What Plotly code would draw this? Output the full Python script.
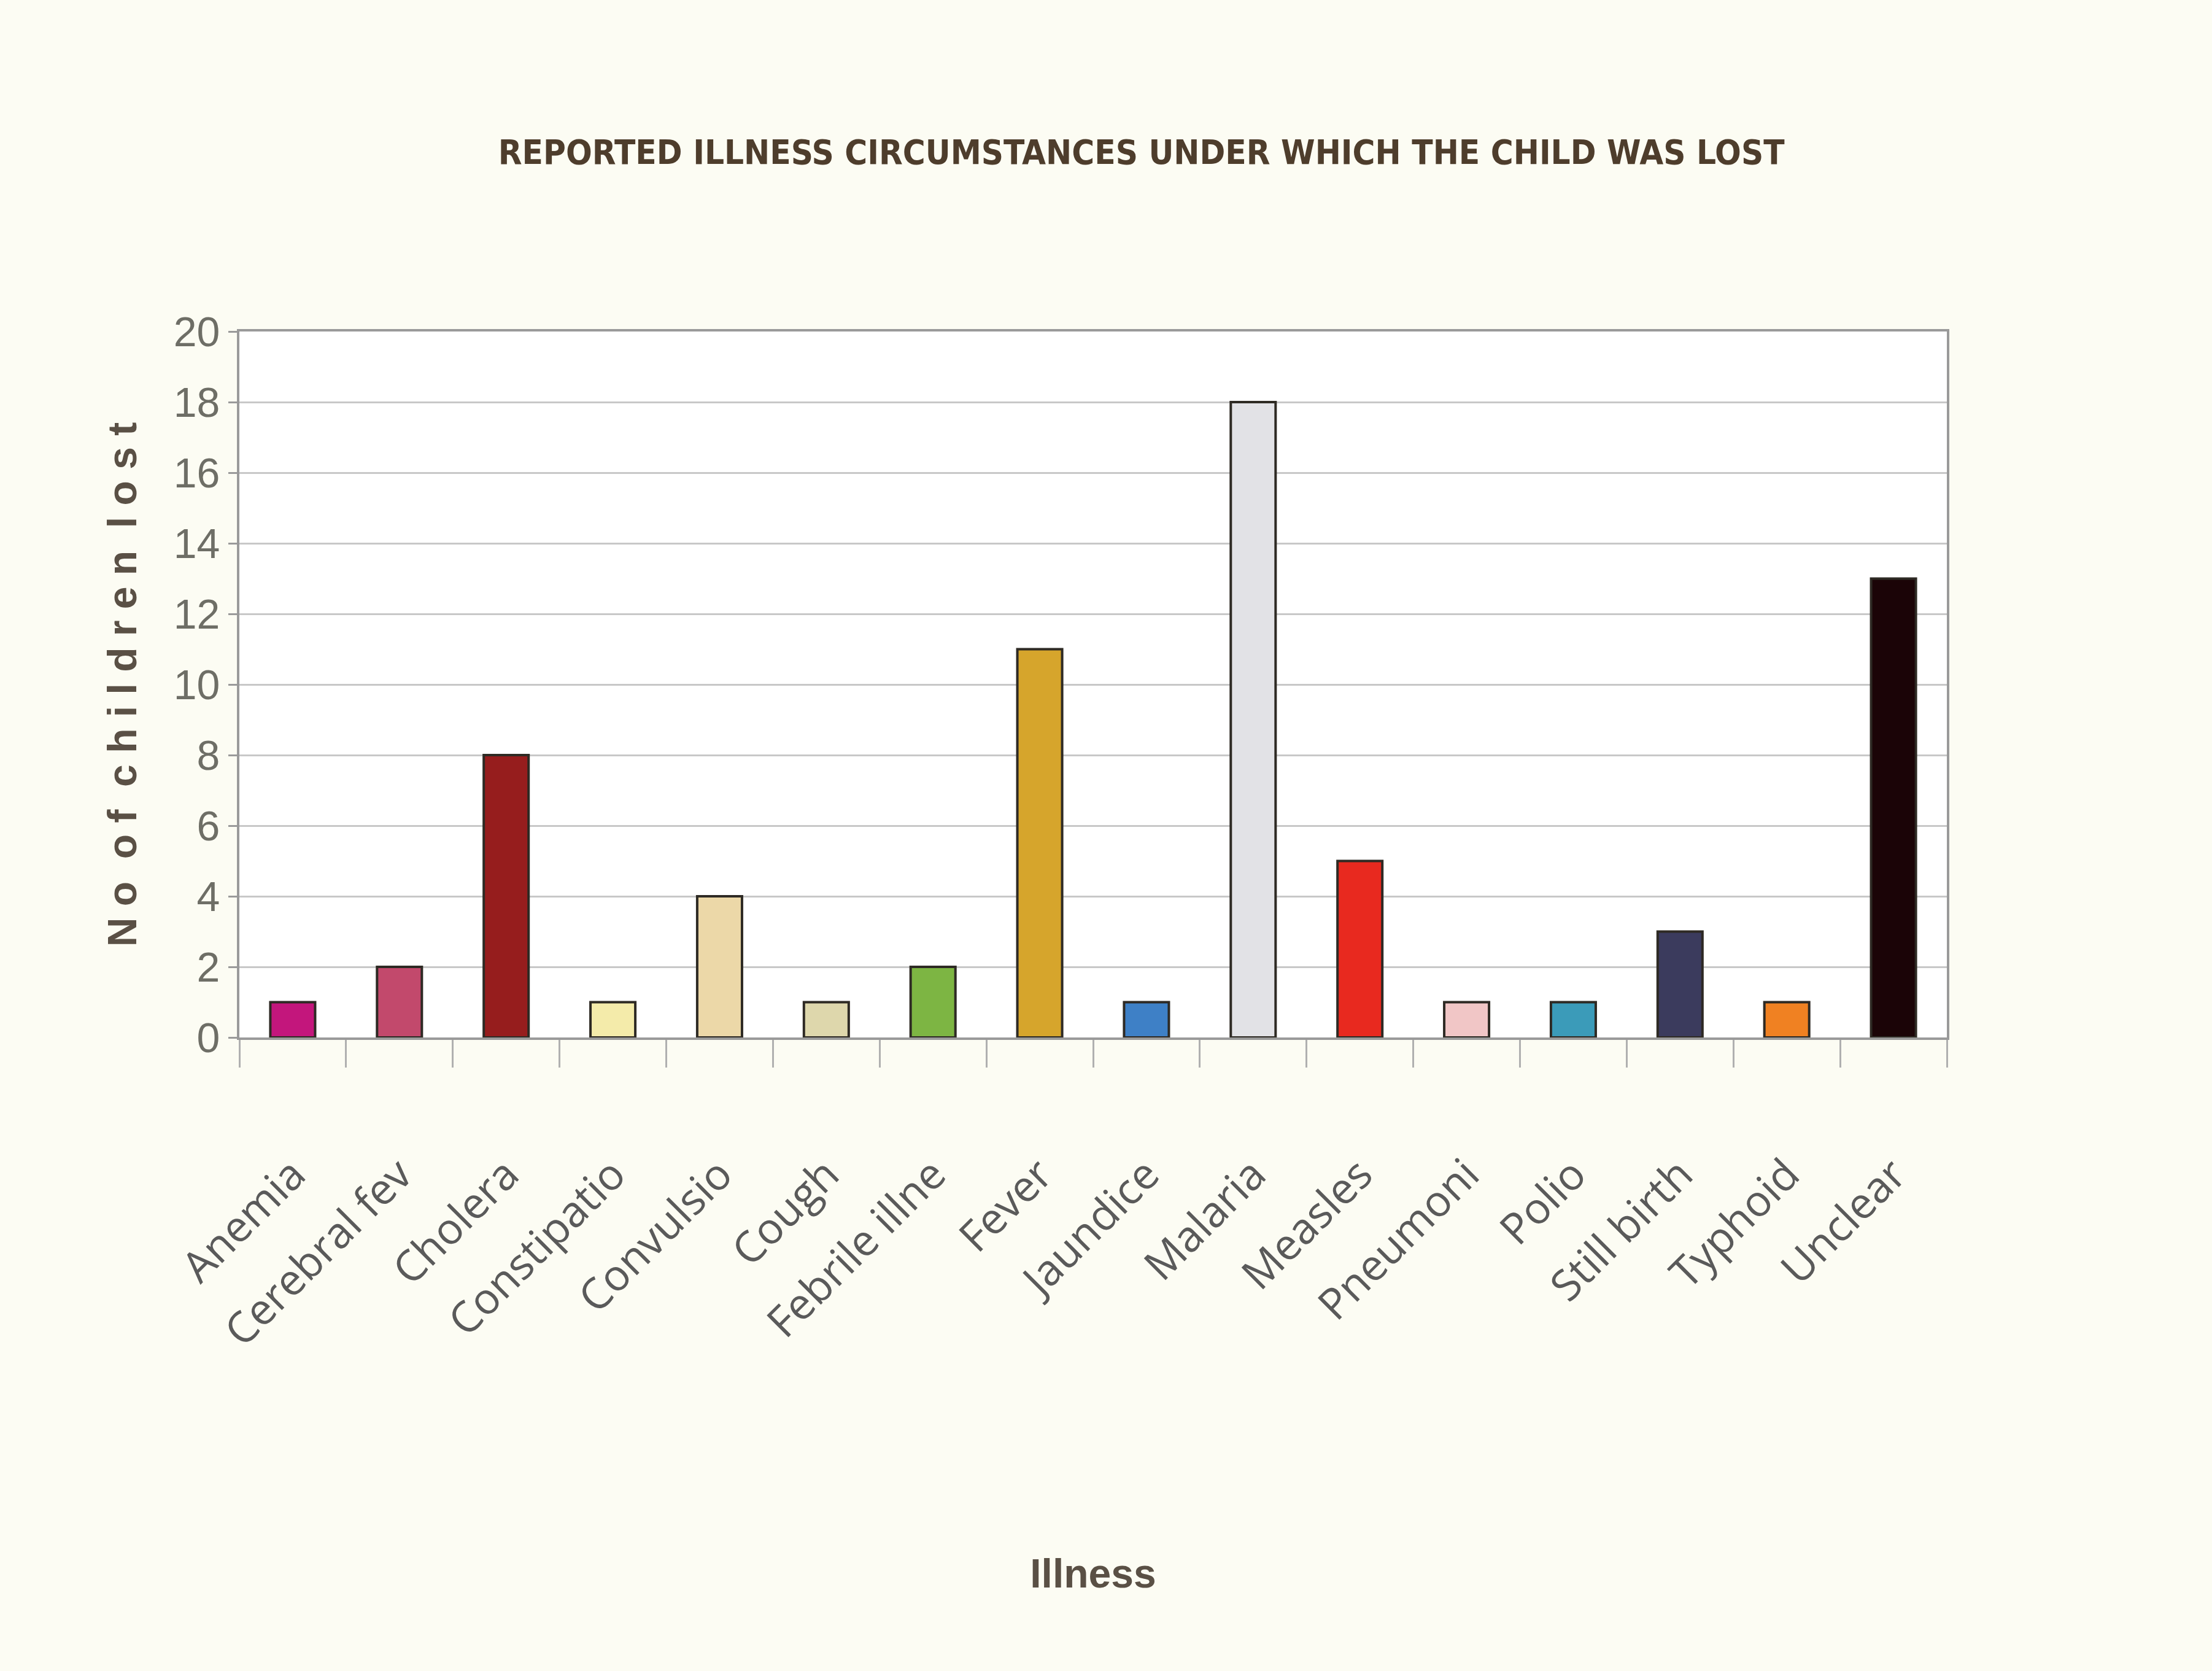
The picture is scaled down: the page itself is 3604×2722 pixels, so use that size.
import plotly.graph_objects as go

illnesses = ["Anemia", "Cerebral fev", "Cholera", "Constipatio", "Convulsio", "Cough",
             "Febrile illne", "Fever", "Jaundice", "Malaria", "Measles", "Pneumoni",
             "Polio", "Still birth", "Typhoid", "Unclear"]
children_lost = [1, 2, 8, 1, 4, 1, 2, 11, 1, 18, 5, 1, 1, 3, 1, 13]
bar_colors = ["#c3167c", "#c2496c", "#961d1d", "#f4ebaa", "#ecd8a8", "#ded7ac",
              "#7db543", "#d6a52c", "#3e80c6", "#e2e2e6", "#e8291f", "#f1c6c6",
              "#3b9bb9", "#3b3b5d", "#f08122", "#1b0407"]
y_ticks = list(range(0, 21, 2))

fig = go.Figure()
fig.add_trace(go.Bar(
    x=illnesses, y=children_lost,
    marker=dict(color=bar_colors, line=dict(color="#2e2a24", width=4)),
    width=0.42,
))

fig.update_layout(
    width=3604, height=2722,
    paper_bgcolor="#fcfcf3",
    plot_bgcolor="#ffffff",
    margin=dict(l=390, r=432, t=540, b=1032),
    showlegend=False,
    title=dict(
        text="<b>REPORTED ILLNESS CIRCUMSTANCES UNDER WHICH THE CHILD WAS LOST</b>",
        x=0.516, xanchor="center", y=0.909, yanchor="middle",
        font=dict(family="DejaVu Sans Condensed, Liberation Sans Narrow, sans-serif",
                  size=56, color="#4e3d2c"),
    ),
    bargap=0.58,
)

fig.update_yaxes(
    range=[0, 20], tickvals=y_ticks,
    showgrid=True, gridcolor="#c8c8c8", gridwidth=3,
    showline=True, linecolor="#9a9a9a", linewidth=4, mirror=True,
    ticks="outside", ticklen=14, tickcolor="#9a9a9a", tickwidth=3,
    tickfont=dict(family="Liberation Sans Narrow, Liberation Sans, sans-serif", size=68, color="#6e6e66"),
    title=dict(text="<b>N o  o f  c h i l d r e n  l o s t</b>",
               font=dict(family="Liberation Sans Narrow, Liberation Sans, sans-serif", size=66, color="#5a5045"),
               standoff=40),
    zeroline=False,
)

fig.update_xaxes(
    showline=True, linecolor="#9a9a9a", linewidth=4, mirror=True,
    ticks="outside", tickson="boundaries", ticklen=45, tickcolor="#b0b0b0", tickwidth=3,
    tickangle=-45,
    ticklabelstandoff=150,
    tickfont=dict(family="Open Sans, Noto Sans, sans-serif", size=70, color="#5a5a5a"),
    title=dict(text="<b>Illness</b>",
               font=dict(family="Liberation Sans Narrow, Liberation Sans, sans-serif", size=66, color="#5a5045"),
               standoff=330),
)

fig.write_html("out.html")
